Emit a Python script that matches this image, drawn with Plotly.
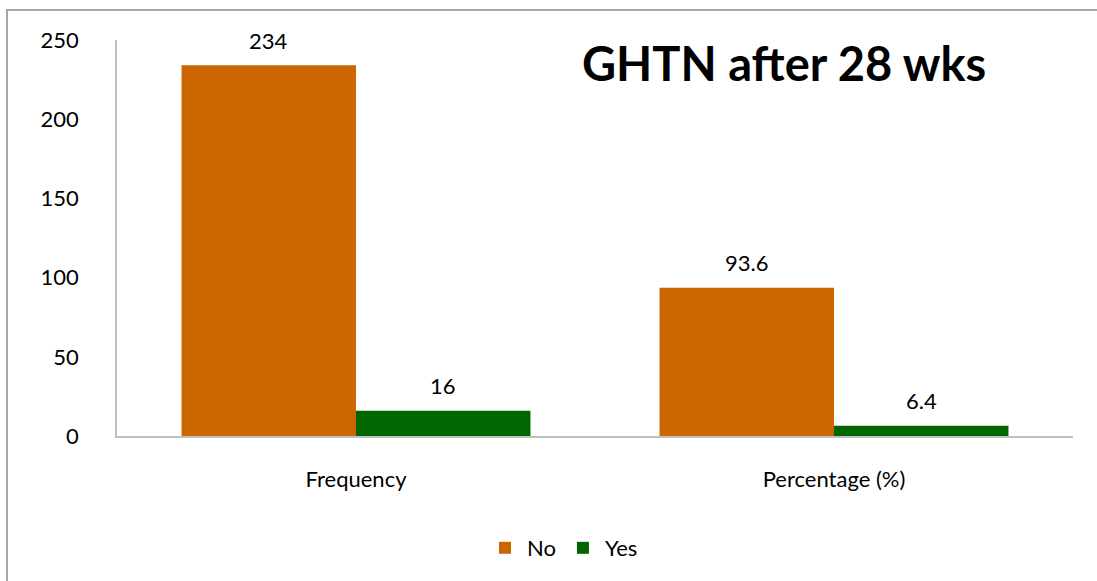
import plotly.graph_objects as go

categories = ["Frequency", "Percentage (%)"]
no_values = [234, 93.6]
yes_values = [16, 6.4]
no_labels = ["234", "93.6"]
yes_labels = ["16", "6.4"]
y_ticks = [0, 50, 100, 150, 200, 250]

ORANGE = "#CC6600"
GREEN = "#006600"
FONT = "Lato"
FS = 22

fig = go.Figure()
fig.add_trace(go.Bar(name="No", x=categories, y=no_values, marker=dict(color=ORANGE, line=dict(width=0))))
fig.add_trace(go.Bar(name="Yes", x=categories, y=yes_values, marker=dict(color=GREEN, line=dict(width=0))))

W, H = 1097, 581
ml, mr, mt, mb = 117, 24, 40, 145
plot_w = W - ml - mr
plot_h = H - mt - mb
cat_w = plot_w / len(categories)
bargap = 0.27
bar_w = cat_w * (1 - bargap) / 2


def px_x(px):
    return (px - ml) / plot_w


def px_y(py):
    return (H - mb - py) / plot_h


for i, cat in enumerate(categories):
    for vals, labs, sign in ((no_values, no_labels, -1), (yes_values, yes_labels, 1)):
        fig.add_annotation(x=cat, y=vals[i], text=labs[i], showarrow=False,
                           xshift=sign * bar_w / 2, yshift=25,
                           font=dict(family=FONT, size=FS, color="#000000"))

fig.add_annotation(xref="paper", yref="paper", x=px_x(784), y=px_y(63),
                   xanchor="center", yanchor="middle", showarrow=False,
                   text="<b>GHTN after 28 wks</b>",
                   font=dict(family=FONT, size=47, color="#000000"))

# outer chart border
fig.add_shape(type="rect", xref="paper", yref="paper",
              x0=px_x(7), x1=px_x(1200), y0=px_y(700), y1=px_y(10),
              line=dict(color="#A6A6A6", width=2), fillcolor="rgba(0,0,0,0)", layer="below")

fig.update_layout(
    width=W, height=H,
    margin=dict(l=ml, r=mr, t=mt, b=mb, pad=0),
    paper_bgcolor="white", plot_bgcolor="white",
    barmode="group", bargap=bargap, bargroupgap=0,
    font=dict(family=FONT, size=FS, color="#000000"),
    showlegend=True,
    legend=dict(orientation="h", xref="container", yref="container",
                x=563 / W, y=1 - 548 / H, xanchor="center", yanchor="middle",
                font=dict(family=FONT, size=FS), itemwidth=34, traceorder="normal"),
    xaxis=dict(showline=True, linecolor="#BFBFBF", linewidth=1.5, showgrid=False,
               ticks="", ticklabelstandoff=23, tickfont=dict(family=FONT, size=FS), zeroline=False),
    yaxis=dict(range=[0, 250], tickvals=y_ticks, showline=True, linecolor="#BFBFBF", linewidth=1.5,
               showgrid=False, zeroline=False, ticks="", ticklabelstandoff=32,
               tickfont=dict(family=FONT, size=FS)),
)

fig.write_html("out.html")
